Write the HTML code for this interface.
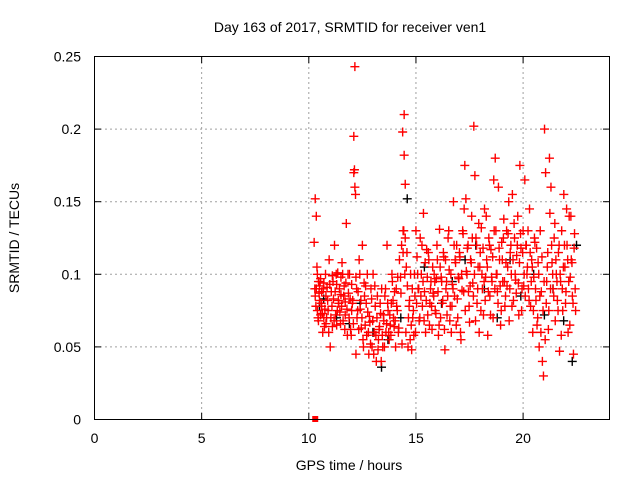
<!DOCTYPE html>
<html><head><meta charset="utf-8"><style>
body{margin:0;background:#fff}
svg{display:block;font-family:"Liberation Sans",sans-serif}
</style></head><body>
<svg id="chart" width="640" height="480">
<rect width="640" height="480" fill="#fff"/>
<text x="350" y="32" font-size="14" text-anchor="middle" fill="#000">Day 163 of 2017, SRMTID for receiver ven1</text>
<g id="grid"></g>
<g id="ticks"></g>
<g id="black"></g>
<g id="red"></g>
<rect x="94.5" y="56.5" width="515" height="363" fill="none" stroke="#000" stroke-width="1"/>
<text x="349" y="470" font-size="14" text-anchor="middle">GPS time / hours</text>
<text transform="translate(19,238) rotate(-90)" font-size="14" text-anchor="middle">SRMTID / TECUs</text>
</svg>
<script>
const xTicks=[0,5,10,15,20];
const yTicks=[0,0.05,0.1,0.15,0.2,0.25];
const yTickLabels=["0","0.05","0.1","0.15","0.2","0.25"];
const redHours=[10.25,10.3,10.3,10.35,10.35,10.4,10.4,10.45,10.45,10.5,10.5,10.55,10.55,10.6,10.6,10.65,10.7,10.7,10.75,10.8,10.8,10.85,10.9,10.95,11.0,11.05,11.1,11.1,11.15,11.2,11.25,11.3,11.3,11.35,11.4,11.45,11.5,11.5,11.55,11.6,11.65,11.7,11.7,11.75,11.8,11.85,11.9,11.95,12.0,12.0,12.05,12.1,12.1,12.15,12.15,12.2,12.2,12.25,12.3,12.35,12.4,12.45,12.5,12.55,12.6,12.65,12.7,12.75,12.8,12.85,12.9,12.95,13.0,13.05,13.1,13.15,13.2,13.25,13.3,13.35,13.4,13.45,13.5,13.55,13.6,13.65,13.7,13.75,13.8,13.85,13.9,13.95,14.0,14.05,14.1,14.15,14.2,14.3,14.35,14.4,14.4,14.45,14.45,14.5,14.5,14.55,14.6,14.65,14.7,14.75,14.8,14.85,14.9,14.95,15.0,15.05,15.1,15.15,15.2,15.25,15.3,15.35,15.4,15.45,15.5,15.55,15.6,15.65,15.7,15.75,15.8,15.85,15.9,15.95,16.0,16.05,16.1,16.15,16.2,16.25,16.3,16.35,16.4,16.45,16.5,16.55,16.6,16.65,16.7,16.75,16.8,16.85,16.9,16.95,17.0,17.05,17.1,17.15,17.2,17.25,17.3,17.35,17.4,17.45,17.5,17.55,17.6,17.65,17.7,17.75,17.8,17.85,17.9,17.95,18.0,18.05,18.1,18.15,18.2,18.25,18.3,18.35,18.4,18.45,18.5,18.55,18.6,18.65,18.7,18.75,18.8,18.85,18.9,18.95,19.0,19.05,19.1,19.15,19.2,19.25,19.3,19.35,19.4,19.45,19.5,19.55,19.6,19.65,19.7,19.75,19.8,19.85,19.9,19.95,20.0,20.05,20.1,20.15,20.2,20.25,20.3,20.35,20.4,20.45,20.5,20.55,20.6,20.65,20.7,20.75,20.8,20.85,20.9,20.95,21.0,21.05,21.1,21.15,21.2,21.25,21.3,21.35,21.4,21.45,21.5,21.55,21.6,21.65,21.7,21.75,21.8,21.85,21.9,21.95,22.0,22.05,22.1,22.15,22.2,22.25,22.3,22.35,22.4,22.45];
const redValues=[0.122,0.152,0.085,0.14,0.09,0.1,0.075,0.095,0.068,0.082,0.092,0.097,0.072,0.078,0.088,0.06,0.07,0.094,0.076,0.085,0.066,0.091,0.075,0.11,0.05,0.088,0.099,0.064,0.083,0.12,0.072,0.093,0.065,0.101,0.08,0.074,0.086,0.098,0.108,0.068,0.092,0.081,0.072,0.135,0.058,0.087,0.1,0.062,0.075,0.093,0.082,0.195,0.17,0.243,0.16,0.098,0.045,0.07,0.088,0.11,0.076,0.063,0.12,0.05,0.085,0.092,0.058,0.074,0.045,0.067,0.09,0.05,0.1,0.06,0.078,0.04,0.085,0.055,0.064,0.073,0.09,0.05,0.068,0.085,0.06,0.12,0.075,0.055,0.065,0.08,0.095,0.07,0.088,0.05,0.078,0.098,0.063,0.087,0.052,0.13,0.115,0.21,0.182,0.162,0.125,0.105,0.092,0.07,0.082,0.1,0.048,0.07,0.058,0.085,0.13,0.112,0.09,0.068,0.125,0.1,0.078,0.142,0.088,0.06,0.117,0.072,0.11,0.08,0.095,0.062,0.087,0.1,0.075,0.097,0.11,0.058,0.131,0.07,0.095,0.082,0.112,0.048,0.09,0.072,0.125,0.103,0.078,0.06,0.093,0.15,0.085,0.108,0.12,0.07,0.097,0.112,0.055,0.089,0.128,0.145,0.075,0.102,0.118,0.088,0.067,0.11,0.14,0.094,0.202,0.168,0.125,0.08,0.105,0.06,0.115,0.132,0.09,0.072,0.145,0.098,0.11,0.058,0.125,0.085,0.117,0.095,0.07,0.13,0.18,0.1,0.088,0.16,0.11,0.065,0.122,0.095,0.138,0.078,0.108,0.092,0.128,0.068,0.115,0.1,0.155,0.082,0.125,0.096,0.113,0.14,0.072,0.175,0.118,0.09,0.13,0.1,0.085,0.12,0.105,0.09,0.145,0.078,0.11,0.06,0.098,0.122,0.082,0.065,0.108,0.05,0.13,0.088,0.04,0.03,0.2,0.17,0.095,0.115,0.075,0.142,0.16,0.108,0.09,0.125,0.068,0.1,0.082,0.115,0.047,0.095,0.13,0.075,0.155,0.105,0.088,0.12,0.06,0.14,0.098,0.11,0.085,0.045,0.128,0.075,0.1,0.05,0.125,0.09];
const redHours2=[10.28,10.33,10.38,10.43,10.48,10.53,10.58,10.63,10.68,10.73,10.78,10.83,10.88,10.93,10.98,11.03,11.08,11.13,11.18,11.23,11.28,11.33,11.38,11.43,11.48,11.53,11.58,11.63,11.68,11.73,11.78,11.83,11.88,11.93,11.98,12.03,12.08,12.13,12.18,12.23,12.28,12.33,12.38,12.43,12.48,12.53,12.58,12.63,12.68,12.73,12.78,12.83,12.88,12.93,12.98,13.03,13.08,13.13,13.18,13.23,13.28,13.33,13.38,13.43,13.48,13.53,13.58,13.63,13.68,13.73,13.78,13.83,13.88,13.93,13.98,14.03,14.08,14.13,14.18,14.23,14.28,14.33,14.38,14.43,14.48,14.53,14.58,14.63,14.68,14.73,14.78,14.83,14.88,14.93,14.98,15.03,15.08,15.13,15.18,15.23,15.28,15.33,15.38,15.43,15.48,15.53,15.58,15.63,15.68,15.73,15.78,15.83,15.88,15.93,15.98,16.03,16.08,16.13,16.18,16.23,16.28,16.33,16.38,16.43,16.48,16.53,16.58,16.63,16.68,16.73,16.78,16.83,16.88,16.93,16.98,17.03,17.08,17.13,17.18,17.23,17.28,17.33,17.38,17.43,17.48,17.53,17.58,17.63,17.68,17.73,17.78,17.83,17.88,17.93,17.98,18.03,18.08,18.13,18.18,18.23,18.28,18.33,18.38,18.43,18.48,18.53,18.58,18.63,18.68,18.73,18.78,18.83,18.88,18.93,18.98,19.03,19.08,19.13,19.18,19.23,19.28,19.33,19.38,19.43,19.48,19.53,19.58,19.63,19.68,19.73,19.78,19.83,19.88,19.93,19.98,20.03,20.08,20.13,20.18,20.23,20.28,20.33,20.38,20.43,20.48,20.53,20.58,20.63,20.68,20.73,20.78,20.83,20.88,20.93,20.98,21.03,21.08,21.13,21.18,21.23,21.28,21.33,21.38,21.43,21.48,21.53,21.58,21.63,21.68,21.73,21.78,21.83,21.88,21.93,21.98,22.03,22.08,22.13,22.18,22.23,22.28,22.33,22.38,22.43];
const redValues2=[0.09,0.078,0.105,0.07,0.087,0.095,0.08,0.073,0.09,0.064,0.1,0.07,0.082,0.06,0.093,0.07,0.078,0.095,0.068,0.088,0.1,0.075,0.082,0.09,0.066,0.078,0.1,0.085,0.062,0.094,0.076,0.1,0.07,0.083,0.058,0.08,0.066,0.172,0.155,0.09,0.075,0.062,0.1,0.082,0.07,0.055,0.094,0.065,0.08,0.1,0.06,0.071,0.052,0.083,0.068,0.045,0.092,0.058,0.07,0.048,0.062,0.08,0.04,0.058,0.072,0.05,0.09,0.066,0.08,0.06,0.072,0.058,0.1,0.082,0.064,0.068,0.09,0.075,0.06,0.11,0.098,0.12,0.198,0.13,0.1,0.06,0.115,0.05,0.078,0.055,0.065,0.09,0.075,0.1,0.06,0.08,0.1,0.09,0.07,0.085,0.12,0.095,0.068,0.108,0.082,0.098,0.115,0.065,0.09,0.078,0.105,0.085,0.095,0.073,0.12,0.088,0.065,0.105,0.098,0.08,0.115,0.062,0.11,0.095,0.085,0.13,0.068,0.1,0.078,0.09,0.12,0.11,0.065,0.083,0.098,0.115,0.06,0.1,0.13,0.088,0.175,0.152,0.1,0.12,0.078,0.092,0.108,0.125,0.085,0.1,0.068,0.12,0.09,0.135,0.105,0.075,0.1,0.118,0.095,0.082,0.14,0.105,0.088,0.12,0.072,0.098,0.112,0.165,0.09,0.13,0.1,0.08,0.118,0.092,0.075,0.11,0.125,0.095,0.085,0.13,0.105,0.15,0.09,0.12,0.078,0.11,0.135,0.1,0.087,0.12,0.094,0.108,0.128,0.075,0.115,0.092,0.165,0.12,0.1,0.13,0.082,0.115,0.095,0.105,0.075,0.125,0.09,0.118,0.07,0.1,0.085,0.06,0.112,0.075,0.095,0.055,0.08,0.105,0.062,0.18,0.09,0.12,0.1,0.085,0.135,0.11,0.095,0.075,0.12,0.1,0.058,0.09,0.105,0.12,0.08,0.145,0.11,0.095,0.065,0.14,0.108,0.08,0.118,0.09,0.062,0.105,0.135,0.11,0.072,0.12,0.098];
const blackHours=[10.4,10.6,11.2,11.8,12.3,12.9,13.3,13.6,14.2,14.5,15.3,16.1,16.6,17.2,17.7,18.1,18.7,19.3,19.8,20.4,20.9,21.3,21.8,22.2,22.4];
const blackValues=[0.078,0.083,0.07,0.066,0.08,0.06,0.036,0.055,0.07,0.152,0.105,0.08,0.095,0.11,0.12,0.09,0.07,0.11,0.085,0.1,0.072,0.09,0.068,0.04,0.12];
const X0=94.5,XS=21.43,Y0=419.5,YS=1452;
const sx=v=>X0+v*XS, sy=v=>Y0-v*YS;
const NS="http://www.w3.org/2000/svg";
function mk(tag,attrs,parent){const e=document.createElementNS(NS,tag);for(const k in attrs)e.setAttribute(k,attrs[k]);parent.appendChild(e);return e;}
const grid=document.getElementById('grid'),ticks=document.getElementById('ticks');
xTicks.forEach(t=>{
 const x=sx(t);
 if(t>0){const l=mk('line',{x1:x,x2:x,y1:57,y2:419,stroke:'#a0a0a0','stroke-dasharray':'2,3'},grid);
 
 }
 mk('line',{x1:x,x2:x,y1:419,y2:413,stroke:'#000'},ticks);
 mk('line',{x1:x,x2:x,y1:57,y2:63,stroke:'#000'},ticks);
 const tx=mk('text',{x:x,y:443,'font-size':14,'text-anchor':'middle'},ticks);
 tx.textContent=t;
 
 
});
yTicks.forEach((t,i)=>{
 const y=sy(t);
 if(t>0&&t<0.25){const l=mk('line',{x1:95,x2:609,y1:y,y2:y,stroke:'#a0a0a0','stroke-dasharray':'2,3'},grid);
 
 }
 mk('line',{x1:95,x2:101,y1:y,y2:y,stroke:'#000'},ticks);
 mk('line',{x1:603,x2:609,y1:y,y2:y,stroke:'#000'},ticks);
 const tx=mk('text',{x:81,y:y+5,'font-size':14,'text-anchor':'end'},ticks);
 tx.textContent=yTickLabels[i];
 
 
});
function plus(g,x,y,c){return mk('path',{d:`M${x-4.5} ${y}h9M${x} ${y-4.5}v9`,stroke:c,'stroke-width':1.4},g);}
const bg=document.getElementById('black'),rg=document.getElementById('red');
blackHours.forEach((h,i)=>{
 const p=plus(bg,sx(h)+2,sy(blackValues[i]),'#000');
 
 
});
redHours.forEach((h,i)=>{
 const p=plus(rg,sx(h),sy(redValues[i]),'#f00');
 
 
});
redHours2.forEach((h,i)=>{
 const p=plus(rg,sx(h),sy(redValues2[i]),'#f00');
 
 
});
const sq=mk('rect',{x:sx(10.3)-3,y:416,width:6,height:6,fill:'#f00'},rg);


</script>
</body></html>
